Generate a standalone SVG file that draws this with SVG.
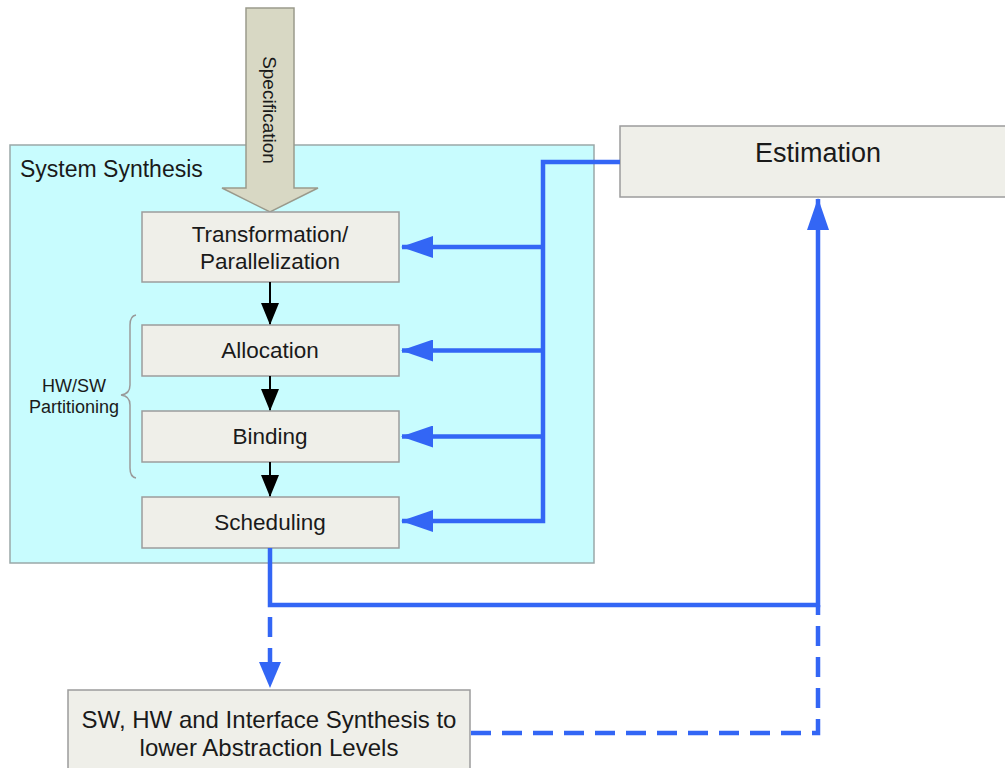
<svg xmlns="http://www.w3.org/2000/svg" width="1005" height="768" viewBox="0 0 1005 768">
<style>
.box{fill:#efefe9;stroke:#9c9c9c;stroke-width:1.5}
.t{font-family:"Liberation Sans",Arial,sans-serif;fill:#1a1a1a;text-anchor:middle}
.blue{fill:none;stroke:#3366f5;stroke-width:4.5;stroke-linejoin:miter}
.dash{fill:none;stroke:#3366f5;stroke-width:4.5;stroke-dasharray:20 11}
.blk{fill:none;stroke:#000;stroke-width:2}
</style>
<defs>
<marker id="ab" viewBox="0 0 32 22" refX="31" refY="11" markerUnits="userSpaceOnUse" markerWidth="32" markerHeight="22" orient="auto">
<path d="M0,0 L32,11 L0,22 Z" fill="#3366f5"/>
</marker>
<marker id="ak" viewBox="0 0 22 18" refX="21" refY="9" markerUnits="userSpaceOnUse" markerWidth="22" markerHeight="18" orient="auto">
<path d="M0,0 L22,9 L0,18 Z" fill="#000"/>
</marker>
</defs>
<rect width="1005" height="768" fill="#fff"/>
<g id="system-synthesis">
<rect x="10" y="145" width="584" height="418" fill="#c8fcfe" stroke="#9aa8a8" stroke-width="1.5"/>
<text class="t" x="20" y="177" font-size="23" style="text-anchor:start">System Synthesis</text>
</g>
<g id="specification">
<polygon points="246,8 294,8 294,188 318,188 270,212 222,188 246,188" fill="#d8d8c4" stroke="#9a9a8c" stroke-width="1.5"/>
<text class="t" x="263" y="110" font-size="19" transform="rotate(90 263 110)">Specification</text>
</g>
<g id="transformation">
<rect class="box" x="142" y="212" width="257" height="70"/>
<text class="t" x="270" y="242" font-size="22.5">Transformation/</text>
<text class="t" x="270" y="269" font-size="22.5">Parallelization</text>
</g>
<g id="allocation">
<rect class="box" x="142" y="325" width="257" height="51"/>
<text class="t" x="270" y="358" font-size="22.5">Allocation</text>
</g>
<g id="binding">
<rect class="box" x="142" y="411" width="257" height="51"/>
<text class="t" x="270" y="444" font-size="22.5">Binding</text>
</g>
<g id="scheduling">
<rect class="box" x="142" y="497" width="257" height="51"/>
<text class="t" x="270" y="530" font-size="22.5">Scheduling</text>
</g>
<g id="hwsw-partitioning">
<path d="M136,315 Q130,316 130,325 L130,385 Q130,394 121,395 Q130,396 130,405 L130,468 Q130,477 136,478" fill="none" stroke="#9a9a9a" stroke-width="1.5"/>
<text class="t" x="74" y="392" font-size="18">HW/SW</text>
<text class="t" x="74" y="413" font-size="18">Partitioning</text>
</g>
<g id="estimation">
<rect class="box" x="620" y="126" width="400" height="71"/>
<text class="t" x="818" y="162" font-size="27">Estimation</text>
</g>
<g id="lower-synthesis">
<rect class="box" x="68" y="690" width="402" height="90"/>
<text class="t" x="269" y="728" font-size="24">SW, HW and Interface Synthesis to</text>
<text class="t" x="269" y="756" font-size="24">lower Abstraction Levels</text>
</g>
<g id="connectors">
<path class="blk" d="M270,282 V324" marker-end="url(#ak)"/>
<path class="blk" d="M270,376 V410" marker-end="url(#ak)"/>
<path class="blk" d="M270,462 V496" marker-end="url(#ak)"/>
<path class="blue" d="M620,162 H543 V521 H402" marker-end="url(#ab)"/>
<path class="blue" d="M543,247 H402" marker-end="url(#ab)"/>
<path class="blue" d="M543,350.5 H402" marker-end="url(#ab)"/>
<path class="blue" d="M543,436.5 H402" marker-end="url(#ab)"/>
<path class="blue" d="M270,548 V605 H818 V199" marker-end="url(#ab)"/>
<path class="dash" d="M270,617 V662"/>
<path d="M259,662 L281,662 L270,688 Z" fill="#3366f5"/>
<path class="dash" d="M471,733 H818 V605"/>
</g>
</svg>
